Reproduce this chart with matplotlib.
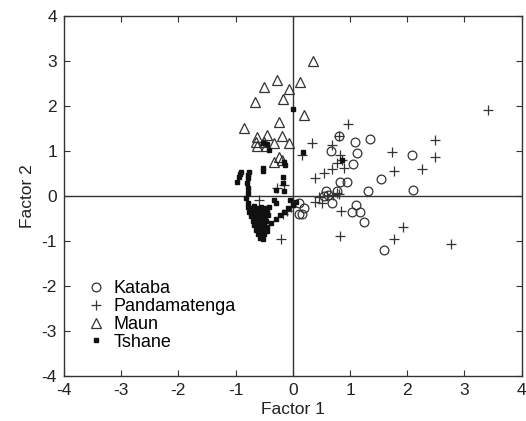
import numpy as np
import matplotlib
matplotlib.use("Agg")
from matplotlib import pyplot as plt

plt.rcParams['font.family'] = ['Liberation Sans', 'DejaVu Sans']
plt.rcParams['axes.unicode_minus'] = False

# Factor scores
kataba_x = [0.80, 1.08, 1.35, 0.67, 1.13, 2.09, 1.06, 1.54, 0.83, 0.94, 1.32, 2.10,
            0.58, 0.61, 0.77, 0.68, 1.11, 1.04, 1.18, 1.25, 1.60, 0.10, 0.19, 0.10,
            0.16, 0.54]
kataba_y = [1.33, 1.21, 1.27, 1.01, 0.95, 0.91, 0.70, 0.38, 0.32, 0.32, 0.10, 0.13,
            0.12, 0.02, 0.10, -0.16, -0.21, -0.36, -0.36, -0.57, -1.20, -0.16, -0.27, -0.39,
            -0.39, -0.01]

panda_x = [3.41, 0.97, 0.34, 0.68, 2.48, 1.74, 2.48, 0.83, 0.16, 0.77, 2.26, 1.76,
           0.68, 0.89, 0.54, 0.38, 0.77, 0.81, 0.86, 0.39, 0.45, 0.51, 0.60, 0.71,
           0.80, 0.84, 1.93, 0.82, 1.76, 2.76, -0.20, -0.59, -0.27, -0.16, -0.18, -0.10,
           -0.03]
panda_y = [1.90, 1.59, 1.18, 1.13, 1.24, 0.98, 0.86, 0.91, 0.92, 0.74, 0.61, 0.56,
           0.59, 0.63, 0.52, 0.39, 0.07, 1.33, 0.80, -0.13, -0.03, -0.16, -0.01, 0.02,
           0.04, -0.33, -0.70, -0.88, -0.96, -1.07, -0.95, -0.09, 0.17, 0.24, -0.40, -0.33,
           -0.25]

maun_x = [0.35, -0.28, -0.50, 0.12, -0.07, -0.17, -0.66, 0.19, -0.24, -0.86, -0.62, -0.45,
          -0.19, -0.65, -0.50, -0.33, -0.07, -0.62, -0.47, -0.24, -0.33, -0.19]
maun_y = [3.01, 2.58, 2.43, 2.54, 2.37, 2.16, 2.09, 1.79, 1.65, 1.50, 1.31, 1.35,
          1.34, 1.19, 1.20, 1.18, 1.17, 1.10, 1.10, 0.87, 0.76, 0.80]

tshane_x = [0.00, -0.52, -0.42, -0.45, -0.14, -0.16, -0.52, -0.53, 0.17, 0.86,
            -0.91, -0.94, -0.97, -0.93, -0.77, -0.79, -0.80, -0.79, -0.78,
            -0.79, -0.81, -0.79, -0.17, -0.17, -0.30, -0.16, -0.33, -0.30,
            -0.78, -0.71, -0.67, -0.60, -0.55, -0.47, -0.42,
            -0.76, -0.69, -0.65, -0.57, -0.52, -0.46,
            -0.73, -0.68, -0.61, -0.56, -0.49, -0.43,
            -0.70, -0.63, -0.59, -0.51, -0.47,
            -0.67, -0.62, -0.54, -0.50,
            -0.64, -0.57, -0.53, -0.46,
            -0.61, -0.55, -0.50,
            -0.57, -0.52,
            -0.45, -0.38, -0.30, -0.22, -0.15, -0.08, 0.00, 0.05, -0.05]
tshane_y = [1.94, 1.17, 1.02, 1.15, 0.69, 0.75, 0.62, 0.55, 0.97, 0.80,
            0.54, 0.43, 0.32, 0.48, 0.54, 0.39, 0.28, 0.17, 0.47,
            0.06, -0.05, -0.16, 0.43, 0.28, 0.13, 0.10, -0.09, -0.16,
            -0.25, -0.27, -0.23, -0.26, -0.24, -0.27, -0.25,
            -0.35, -0.36, -0.33, -0.37, -0.34, -0.36,
            -0.45, -0.47, -0.44, -0.46, -0.45, -0.43,
            -0.55, -0.56, -0.54, -0.57, -0.55,
            -0.65, -0.66, -0.64, -0.67,
            -0.75, -0.76, -0.74, -0.77,
            -0.85, -0.86, -0.84,
            -0.93, -0.95,
            -0.68, -0.60, -0.52, -0.42, -0.35, -0.27, -0.20, -0.13, -0.10]

ink = '#333333'

fig = plt.figure(figsize=(5.26, 4.21), dpi=100)
ax = fig.add_axes([0.1217, 0.107, 0.870, 0.855])

ax.axhline(0, color=ink, lw=1.0, zorder=1)
ax.axvline(0, color=ink, lw=1.0, zorder=1)

ax.plot(kataba_x, kataba_y, 'o', ms=6.3, mfc='none', mec=ink, mew=0.9, ls='none', label='Kataba')
ax.plot(panda_x, panda_y, '+', ms=7, mec=ink, mew=0.9, ls='none', label='Pandamatenga')
ax.plot(maun_x, maun_y, '^', ms=7, mfc='none', mec=ink, mew=0.9, ls='none', label='Maun')
ax.plot(tshane_x, tshane_y, 's', ms=3.5, mfc='#111111', mec='#111111', ls='none', label='Tshane')

ax.set_xlim(-4, 4)
ax.set_ylim(-4, 4)
ax.set_xticks(np.arange(-4, 5, 1))
ax.set_yticks(np.arange(-4, 5, 1))
ax.tick_params(direction='in', top=True, right=True, length=4, width=0.8,
               labelsize=12.5, colors=ink, labelcolor='#222222', pad=5)
for s in ax.spines.values():
    s.set_color(ink)
    s.set_linewidth(1.0)

ax.set_xlabel('Factor 1', fontsize=12.5, color='#222222', labelpad=3)
ax.set_ylabel('Factor 2', fontsize=12.5, color='#222222', labelpad=5)

ax.legend(loc='lower left', bbox_to_anchor=(0.05, 0.07), frameon=False, fontsize=13,
          handlelength=1.0, handletextpad=0.5, labelspacing=0.05, borderpad=0,
          borderaxespad=0)

fig.savefig('out.png', dpi=100)
